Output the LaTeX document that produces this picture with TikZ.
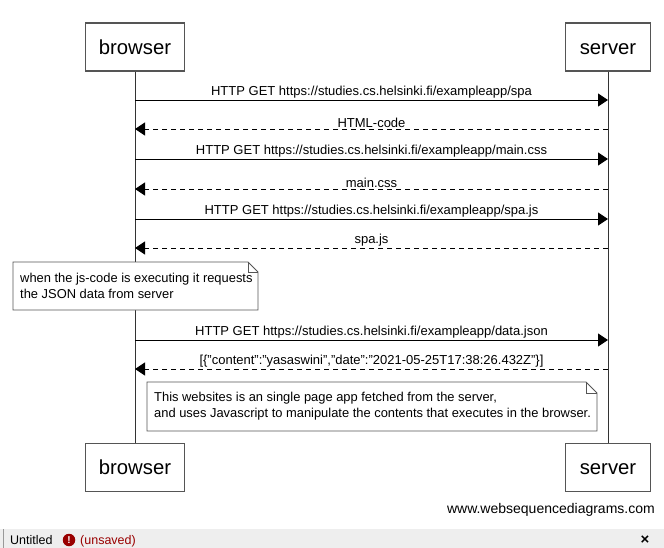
\documentclass[tikz,border=0pt]{standalone}
\usepackage{fontspec}
\setmainfont{Liberation Sans}
\usepackage{xcolor}
\usetikzlibrary{arrows.meta,positioning}

\definecolor{boxline}{HTML}{555555}
\definecolor{tabgray}{HTML}{EEEEEE}
\definecolor{warnred}{HTML}{990000}

\tikzset{
  actor/.style={draw=boxline, line width=1.1pt, fill=white, minimum height=48pt,
    inner sep=0pt, text height=14.5pt, text depth=0pt,
    font=\fontsize{20.3}{23}\selectfont},
  life/.style={line width=0.9pt, black!80},
  msg/.style={line width=0.9pt, -{Triangle[length=10pt,width=13pt]}},
  reply/.style={msg, dash pattern=on 5pt off 4pt},
  lbl/.style={above, inner sep=1pt, font=\fontsize{13}{15}\selectfont},
  notebox/.style={draw=boxline, line width=0.9pt, fill=white},
  notetext/.style={anchor=west, align=left, inner sep=0pt,
    font=\fontsize{12.9}{16}\selectfont}
}

\begin{document}
\begin{tikzpicture}[x=1pt,y=-1pt]
\useasboundingbox (0,0) rectangle (664,548);
\clip (0,0) rectangle (664,548);

% participants
\node[actor, minimum width=99pt] (bt) at (135,47) {browser};
\node[actor, minimum width=85pt] (st) at (608,47) {server};
\node[actor, minimum width=99pt] (bb) at (135,467.5) {browser};
\node[actor, minimum width=85pt] (sb) at (608,467.5) {server};
\draw[life] (bt) -- (bb);
\draw[life] (st) -- (sb);

% message heights on both lifelines
\foreach \i/\y in {1/100,2/129,3/159,4/189,5/219,6/248,7/340,8/369} {
  \coordinate (b\i) at (135,\y);
  \coordinate (s\i) at (608,\y);
}

\draw[msg] (b1) -- node[lbl] {HTTP GET https://studies.cs.helsinki.fi/exampleapp/spa} (s1);
\draw[reply] (s2) -- node[lbl] {HTML-code} (b2);
\draw[msg] (b3) -- node[lbl] {HTTP GET https://studies.cs.helsinki.fi/exampleapp/main.css} (s3);
\draw[reply] (s4) -- node[lbl] {main.css} (b4);
\draw[msg] (b5) -- node[lbl] {HTTP GET https://studies.cs.helsinki.fi/exampleapp/spa.js} (s5);
\draw[reply] (s6) -- node[lbl] {spa.js} (b6);

% note over browser
\draw[notebox] (13,262) -- (248,262) -- (258,272) -- (258,310) -- (13,310) -- cycle;
\draw[notebox, fill=none] (248,262) -- (248,272) -- (258,272);
\node[notetext] (n1) at (20,286) {when the js-code is executing it requests\\the JSON data from server};

\draw[msg] (b7) -- node[lbl] {HTTP GET https://studies.cs.helsinki.fi/exampleapp/data.json} (s7);
\draw[reply] (s8) -- node[lbl] {[\{"content":"yasaswini","date":"2021-05-25T17:38:26.432Z"\}]} (b8);

% note between
\draw[notebox] (147,382) -- (586,382) -- (597,393) -- (597,431) -- (147,431) -- cycle;
\draw[notebox, fill=none] (586,382) -- (586,393) -- (597,393);
\node[notetext] (n2) at (154,406.5) {This websites is an single page app fetched from the server,\\and uses Javascript to manipulate the contents that executes in the browser.};

\node[anchor=east, inner sep=0pt, font=\fontsize{14}{16}\selectfont] (wm) at (655,510) {www.websequencediagrams.com};

% editor tab bar
\fill[tabgray] (0,529) rectangle (664,548);
\draw[black!40, line width=0.8pt] (3,529) -- (3,548);
\node[anchor=base west, inner sep=0pt, font=\fontsize{12.5}{14}\selectfont] (tab) at (10,544.5) {Untitled};
\node[circle, fill=warnred, text=white, inner sep=0pt, minimum size=12.5pt,
  font=\bfseries\fontsize{10}{11}\selectfont] (warn) at (69,540) {!};
\node[anchor=base west, inner sep=0pt, text=warnred, font=\fontsize{12.5}{14}\selectfont] (uns) at (80,544.5) {(unsaved)};
\node[inner sep=0pt, font=\bfseries\fontsize{15}{16}\selectfont] (close) at (645,540) {×};
\end{tikzpicture}
\end{document}
